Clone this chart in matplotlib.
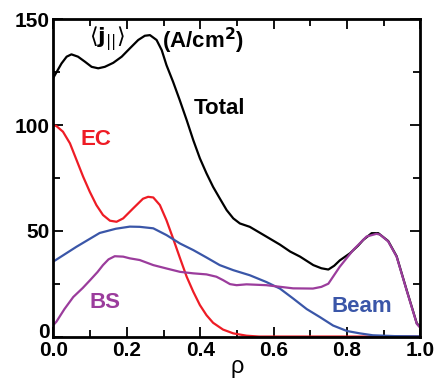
import matplotlib
matplotlib.use("Agg")
import matplotlib.pyplot as plt
import matplotlib.transforms as mtransforms

plt.rcParams['font.family'] = ['Liberation Sans', 'DejaVu Sans']

# current density profiles
rho_total = [0.0, 0.022, 0.036, 0.049, 0.067, 0.086, 0.104, 0.122, 0.14, 0.163, 0.186,
             0.208, 0.231, 0.249, 0.263, 0.281, 0.295, 0.308, 0.326, 0.344, 0.363,
             0.381, 0.399, 0.417, 0.435, 0.453, 0.472, 0.49, 0.508, 0.535, 0.58,
             0.617, 0.645, 0.672, 0.708, 0.73, 0.749, 0.765, 0.78, 0.808, 0.83,
             0.844, 0.867, 0.885, 0.912, 0.935, 0.962, 0.99, 1.0]
j_total = [122.5, 129.2, 132.4, 133.5, 132.4, 130, 127.6, 126.9, 127.6, 129.5, 132.4,
           136.3, 140.3, 142.3, 142.6, 140.3, 135.5, 128.4, 120.5, 111.9, 102.4,
           92.9, 84.3, 77.2, 70.8, 65.4, 59.8, 55.9, 53.5, 51.9, 47.3,
           43.5, 40.2, 37.8, 33.8, 32.3, 31.7, 33.5, 36, 39.4, 43,
           45.7, 48.9, 48.9, 45.2, 38, 22.2, 6.2, 4.5]

rho_ec = [0.0, 0.008, 0.026, 0.045, 0.063, 0.081, 0.099, 0.117, 0.135, 0.154, 0.172,
          0.19, 0.217, 0.244, 0.258, 0.272, 0.29, 0.308, 0.326, 0.345, 0.363,
          0.381, 0.399, 0.417, 0.435, 0.462, 0.49, 0.526, 0.56, 1.0]
j_ec = [100, 99.6, 96.9, 91.4, 83.5, 75.6, 68.5, 62.2, 57.5, 54.8, 54.3,
        55.9, 60.6, 65.2, 66.1, 65.8, 62.2, 55, 46.4, 37, 28.3,
        21.2, 14.9, 10.1, 6.5, 3.3, 1.5, 0.4, 0, 0]

rho_beam = [0.0, 0.063, 0.126, 0.17, 0.208, 0.235, 0.272, 0.308, 0.345, 0.381, 0.417,
            0.453, 0.49, 0.535, 0.58, 0.617, 0.653, 0.69, 0.726, 0.762, 0.80,
            0.835, 0.87, 0.93, 1.0]
j_beam = [35.5, 42.5, 49, 51, 52, 51.9, 51.2, 48, 44, 40.9, 37.4,
          33.8, 31.4, 29, 25.8, 22.7, 18, 13, 9.2, 5.2, 2.6,
          1.5, 0.6, 0.2, 0.1]

rho_bs = [0.0, 0.008, 0.03, 0.054, 0.08, 0.10, 0.12, 0.135, 0.15, 0.167, 0.19,
          0.208, 0.235, 0.272, 0.308, 0.345, 0.381, 0.417, 0.444, 0.462, 0.481,
          0.499, 0.526, 0.58, 0.653, 0.707, 0.73, 0.749, 0.78, 0.817, 0.853,
          0.88, 0.89, 0.912, 0.935, 0.962, 0.99, 1.0]
j_bs = [5.5, 7, 13, 18.7, 23, 26.7, 30.5, 33.8, 36.5, 38, 37.8,
        37, 36.2, 33.8, 32.2, 30.6, 29.9, 29.4, 28.3, 26.7, 24.8,
        24.3, 24.7, 24.3, 22.8, 22.7, 23.5, 25, 33, 41, 47.3,
        48.6, 48.2, 45, 37.8, 22, 6, 4]

red = '#ee1c25'
blue = '#3a56a8'
purple = '#9b3c9c'

fig = plt.figure(figsize=(4.38, 3.82), dpi=100)
ax = fig.add_axes([0.122, 0.119, 0.838, 0.830])

for xs, ys, c in [(rho_total, j_total, 'black'), (rho_ec, j_ec, red),
                  (rho_beam, j_beam, blue), (rho_bs, j_bs, purple)]:
    ax.plot(xs, ys, color=c, lw=1.6, solid_joinstyle='round', solid_capstyle='round')

ax.set_xlim(0, 1.0)
ax.set_ylim(0, 150)
ax.set_xticks([0, 0.2, 0.4, 0.6, 0.8, 1.0])
ax.set_xticks([0.1, 0.3, 0.5, 0.7, 0.9], minor=True)
ax.set_yticks([0, 50, 100, 150])
ax.set_yticks([25, 75, 125], minor=True)
ax.set_xticklabels(['0.0', '0.2', '0.4', '0.6', '0.8', '1.0'])
ax.tick_params(which='both', direction='in', top=True, right=True, width=1.3,
               labelsize=15, pad=3)
ax.tick_params(which='major', length=7)
ax.tick_params(which='minor', length=5)
for lab in ax.get_xticklabels() + ax.get_yticklabels():
    lab.set_fontweight('bold')
# the "0" on the y axis sits a bit above the axis line in the original
zero_lab = ax.get_yticklabels()[0]
zero_lab.set_transform(zero_lab.get_transform() +
                       mtransforms.ScaledTranslation(0, 6 / 100, fig.dpi_scale_trans))
for sp in ax.spines.values():
    sp.set_linewidth(2)

ax.set_xlabel('ρ', fontsize=17, labelpad=-3)

ax.text(0.145, 141, r'$\langle \mathbf{j}_{||} \rangle$', fontsize=16, ha='center', va='center')
ax.text(0.407, 140, '(A/cm$^\\mathbf{2}$)', fontsize=16, fontweight='bold', ha='center', va='center')
ax.text(0.453, 108, 'Total', fontsize=16, fontweight='bold', ha='center', va='center')
ax.text(0.115, 93, 'EC', fontsize=16, fontweight='bold', color=red, ha='center', va='center')
ax.text(0.14, 16, 'BS', fontsize=16, fontweight='bold', color=purple, ha='center', va='center')
ax.text(0.84, 14, 'Beam', fontsize=16, fontweight='bold', color=blue, ha='center', va='center')

fig.savefig('out.png', dpi=100)
